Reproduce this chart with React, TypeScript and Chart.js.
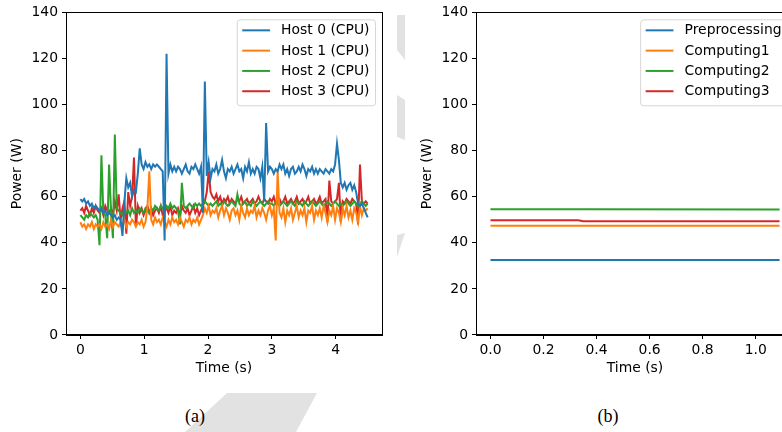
import React, { useEffect, useRef } from "react";
import { Chart, registerables } from "chart.js";

Chart.register(...registerables);

const FONT = "'DejaVu Sans', sans-serif";
const FONT_SIZE = 13.9;
const COLORS = ["#1f77b4", "#ff7f0e", "#2ca02c", "#d62728"];

// ---- (a) per-host CPU power, sampled every TIME_STEP seconds ----
const TIME_STEP = 0.03;
const HOST_LABELS = ["Host 0 (CPU)", "Host 1 (CPU)", "Host 2 (CPU)", "Host 3 (CPU)"];

const HOST0 = [
  59, 58, 59, 57, 58, 56, 57, 55, 56, 55,
  54, 55, 53, 54, 52, 53, 52, 51, 52, 50,
  51, 50, 43, 58, 68, 64, 66, 60, 63, 62,
  70, 81, 74, 72, 75, 73, 74, 72, 74, 73,
  74, 73, 72, 71, 41, 122, 70, 74, 71, 73,
  71, 73, 72, 70, 72, 74, 71, 70, 73, 72,
  74, 72, 70, 73, 53, 110, 69, 75, 68, 72,
  71, 74, 70, 72, 76, 71, 68, 72, 71, 73,
  70, 72, 74, 71, 72, 68, 73, 71, 75, 70,
  72, 70, 73, 72, 68, 73, 58, 92, 71, 73,
  72, 70, 72, 71, 74, 72, 74, 70, 72, 69,
  72, 73, 70, 71, 73, 71, 74, 72, 69, 72,
  71, 73, 70, 72, 70, 72, 71, 70, 72, 71,
  70, 72, 71, 74, 83, 76, 66, 64, 66, 63,
  65, 66, 63, 65, 62, 57, 56, 57, 55, 53,
  51,
];

const HOST1 = [
  49, 47, 48, 46, 48, 47, 49, 46, 48, 47,
  48, 46, 49, 47, 48, 46, 50, 47, 49, 48,
  47, 49, 48, 50, 47, 49, 48, 50, 49, 47,
  49, 48, 50, 47, 49, 55, 71, 50, 48, 51,
  49, 50, 48, 51, 49, 47, 50, 48, 51, 49,
  50, 48, 51, 49, 47, 50, 49, 51, 48, 50,
  49, 51, 48, 50, 52, 55, 53, 56, 52, 54,
  53, 55, 51, 54, 56, 52, 55, 53, 50, 54,
  55, 52, 54, 50, 56, 53, 51, 55, 52, 54,
  53, 56, 51, 54, 52, 55, 53, 50, 54, 56,
  52, 55, 41, 71, 53, 51, 55, 49, 54, 52,
  55, 50, 53, 56, 51, 54, 52, 55, 49, 54,
  53, 56, 50, 54, 52, 55, 51, 56, 53, 49,
  54, 52, 56, 50, 55, 53, 49, 55, 52, 56,
  51, 54, 50, 55, 53, 49, 56, 52, 55, 54,
  55,
];

const HOST2 = [
  52, 51, 50, 52, 51, 53, 52, 51, 52, 50,
  39, 78, 53, 52, 42, 74, 54, 42, 87, 55,
  54, 53, 52, 55, 53, 54, 52, 55, 53, 54,
  53, 55, 54, 53, 55, 54, 53, 55, 54, 56,
  55, 54, 56, 55, 54, 56, 55, 57, 55, 56,
  55, 54, 48, 66, 56, 55, 56, 57, 56, 55,
  57, 56, 57, 56, 57, 58, 57, 56, 57, 56,
  57, 58, 56, 57, 56, 58, 57, 56, 57, 58,
  57, 56, 61, 57, 56, 57, 58, 56, 57, 56,
  58, 57, 56, 57, 58, 57, 56, 57, 58, 57,
  57, 56, 58, 57, 56, 57, 58, 57, 56, 57,
  58, 57, 56, 58, 57, 57, 56, 58, 57, 56,
  57, 58, 57, 56, 57, 58, 57, 56, 57, 58,
  57, 56, 57, 58, 57, 56, 57, 56, 57, 58,
  57, 56, 57, 58, 57, 56, 57, 58, 57, 56,
  57,
];

const HOST3 = [
  54, 55, 53, 56, 54, 52, 55, 53, 56, 54,
  53, 55, 52, 56, 54, 53, 55, 52, 58, 54,
  61, 50, 55, 58, 44, 62, 56, 60, 77, 47,
  56, 53, 55, 52, 54, 56, 53, 55, 52, 54,
  55, 53, 56, 52, 54, 55, 53, 56, 52, 54,
  53, 55, 52, 56, 54, 53, 55, 52, 54, 56,
  53, 55, 52, 54, 56, 58, 62, 71, 62, 60,
  59, 61, 58, 60, 57, 59, 58, 60, 57, 59,
  58, 57, 59, 58, 60, 57, 58, 59, 57, 58,
  59, 57, 58, 60, 58, 57, 59, 58, 57, 59,
  58, 60, 57, 58, 59, 57, 58, 60, 57, 58,
  59, 57, 58, 60, 57, 58, 59, 57, 58, 60,
  57, 58, 59, 57, 58, 60, 57, 58, 59, 49,
  67, 58, 57, 58, 59, 66, 49, 58, 57, 59,
  58, 57, 59, 58, 57, 48, 74, 58, 57, 58,
  57,
];

const HOST_SERIES = [HOST0, HOST1, HOST2, HOST3];
const HOST_X_TICKS = [0, 1, 2, 3, 4];

// ---- (b) per-stage power ----
const STAGE_LABELS = ["Preprocessing", "Computing1", "Computing2", "Computing3"];
const STAGE_TIME = [0, 0.33, 0.35, 1.09];
const PREPROCESSING = [32.5, 32.5, 32.5, 32.5];
const COMPUTING1 = [47.4, 47.4, 47.4, 47.4];
const COMPUTING2 = [54.6, 54.6, 54.6, 54.5];
const COMPUTING3 = [49.8, 49.8, 49.4, 49.4];
const STAGE_SERIES = [PREPROCESSING, COMPUTING1, COMPUTING2, COMPUTING3];
const STAGE_X_TICKS = [0, 0.2, 0.4, 0.6, 0.8, 1.0];

const POWER_TICKS = [0, 20, 40, 60, 80, 100, 120, 140];

// White axes face, full black frame and an in-axes legend at the upper right.
const framePlugin = {
  id: "frame",
  beforeDraw(chart: any) {
    const { ctx, chartArea: a } = chart;
    ctx.save();
    ctx.fillStyle = "#ffffff";
    ctx.fillRect(a.left, a.top, a.right - a.left, a.bottom - a.top);
    ctx.restore();
  },
  afterDraw(chart: any) {
    const { ctx, chartArea: a } = chart;
    ctx.save();
    ctx.strokeStyle = "#000000";
    ctx.lineWidth = 1;
    ctx.strokeRect(
      Math.round(a.left) + 0.5,
      Math.round(a.top) + 0.5,
      Math.round(a.right - a.left),
      Math.round(a.bottom - a.top)
    );

    const sets = chart.data.datasets;
    ctx.font = `${FONT_SIZE}px ${FONT}`;
    const pad = 5.5;
    const handle = 27.8;
    const gap = 11.1;
    const rowH = 20.3;
    const textW = Math.max(...sets.map((d: any) => ctx.measureText(d.label).width));
    const w = pad + handle + gap + textW + pad;
    const h = (sets.length - 1) * rowH + 25;
    const right = a.right - 7;
    const left = right - w;
    const top = a.top + 7;

    ctx.beginPath();
    ctx.roundRect(left + 0.5, top + 0.5, w, h, 3);
    ctx.fillStyle = "rgba(255,255,255,0.8)";
    ctx.fill();
    ctx.strokeStyle = "rgba(204,204,204,0.8)";
    ctx.lineWidth = 1;
    ctx.stroke();

    sets.forEach((d: any, i: number) => {
      const y = top + 11 + i * rowH;
      ctx.beginPath();
      ctx.strokeStyle = d.borderColor;
      ctx.lineWidth = 2;
      ctx.moveTo(left + pad, y);
      ctx.lineTo(left + pad + handle, y);
      ctx.stroke();
      ctx.fillStyle = "#000000";
      ctx.textBaseline = "middle";
      ctx.textAlign = "left";
      ctx.fillText(d.label, left + pad + handle + gap, y + 0.5);
    });
    ctx.restore();
  },
};

function axisCommon() {
  return {
    grid: {
      display: true,
      drawOnChartArea: false,
      drawTicks: true,
      tickLength: 4,
      color: "#000000",
      lineWidth: 1,
    },
    border: { display: true, color: "#000000", width: 1 },
  };
}

function buildConfig(
  labels: string[],
  datasets: { x: number; y: number }[][],
  xMin: number,
  xMax: number,
  xTicks: number[],
  xFormat: (v: number) => string,
  rightPad: number
) {
  const tickFont = { family: FONT, size: FONT_SIZE };
  return {
    type: "line",
    data: {
      datasets: datasets.map((pts, i) => ({
        label: labels[i],
        data: pts,
        borderColor: COLORS[i],
        backgroundColor: COLORS[i],
        borderWidth: 2,
        pointRadius: 0,
        tension: 0,
        fill: false,
      })),
    },
    options: {
      animation: false,
      responsive: false,
      devicePixelRatio: 1,
      parsing: false,
      normalized: true,
      layout: { padding: { top: 12, right: rightPad, left: 0, bottom: 0 } },
      plugins: { legend: { display: false }, tooltip: { enabled: false } },
      scales: {
        x: {
          type: "linear",
          min: xMin,
          max: xMax,
          ...axisCommon(),
          afterBuildTicks: (s: any) => {
            s.ticks = xTicks.map((v) => ({ value: v }));
          },
          afterFit: (s: any) => {
            s.height = 55;
          },
          ticks: {
            color: "#000000",
            font: tickFont,
            padding: 3,
            maxRotation: 0,
            autoSkip: false,
            callback: (v: any) => xFormat(Number(v)),
          },
          title: {
            display: true,
            text: "Time (s)",
            color: "#000000",
            font: tickFont,
            padding: { top: 0, bottom: 13 },
          },
        },
        y: {
          type: "linear",
          min: 0,
          max: 140,
          ...axisCommon(),
          afterBuildTicks: (s: any) => {
            s.ticks = POWER_TICKS.map((v) => ({ value: v }));
          },
          afterFit: (s: any) => {
            s.width = 66;
          },
          ticks: {
            color: "#000000",
            font: tickFont,
            padding: 4,
            autoSkip: false,
            callback: (v: any) => String(v),
          },
          title: {
            display: true,
            text: "Power (W)",
            color: "#000000",
            font: tickFont,
            padding: { top: 9, bottom: 0 },
          },
        },
      },
    },
    plugins: [framePlugin],
  };
}

function PowerChart(props: { config: () => any; left: number }) {
  const ref = useRef<HTMLCanvasElement | null>(null);
  useEffect(() => {
    if (!ref.current) return;
    const chart = new Chart(ref.current, props.config());
    return () => chart.destroy();
  }, []);
  return (
    <canvas
      ref={ref}
      width={400}
      height={390}
      style={{ position: "absolute", left: props.left, top: 0, width: 400, height: 390 }}
    />
  );
}

const hostConfig = () =>
  buildConfig(
    HOST_LABELS,
    HOST_SERIES.map((vals) => vals.map((v, i) => ({ x: i * TIME_STEP, y: v }))),
    -0.225,
    4.725,
    HOST_X_TICKS,
    (v) => String(v),
    18
  );

const stageConfig = () =>
  buildConfig(
    STAGE_LABELS,
    STAGE_SERIES.map((vals) => vals.map((v, i) => ({ x: STAGE_TIME[i], y: v }))),
    -0.0545,
    1.1445,
    STAGE_X_TICKS,
    (v) => v.toFixed(1),
    16
  );

export default function App() {
  const caption = (text: string, cx: number) => (
    <div
      style={{
        position: "absolute",
        left: cx - 30,
        width: 60,
        top: 405,
        textAlign: "center",
        fontFamily: "'Liberation Serif', serif",
        fontSize: 18,
        lineHeight: "22px",
        color: "#000",
      }}
    >
      {text}
    </div>
  );
  return (
    <div
      style={{
        position: "fixed",
        left: 0,
        top: 0,
        width: 782,
        height: 432,
        overflow: "hidden",
        background: "#ffffff",
      }}
    >
      <svg
        width={782}
        height={432}
        style={{ position: "absolute", left: 0, top: 0 }}
      >
        <g fill="#e2e2e2">
          <polygon points="397,15 405,15 405,60 397,50" />
          <polygon points="397,95 405,100 405,140 397,137" />
          <polygon points="397,235 405,233 397,257" />
          <polygon points="227,393 317,393 296,432 185,432" />
        </g>
      </svg>
      <PowerChart config={hostConfig} left={0} />
      <PowerChart config={stageConfig} left={410} />
      {caption("(a)", 195)}
      {caption("(b)", 608)}
    </div>
  );
}
